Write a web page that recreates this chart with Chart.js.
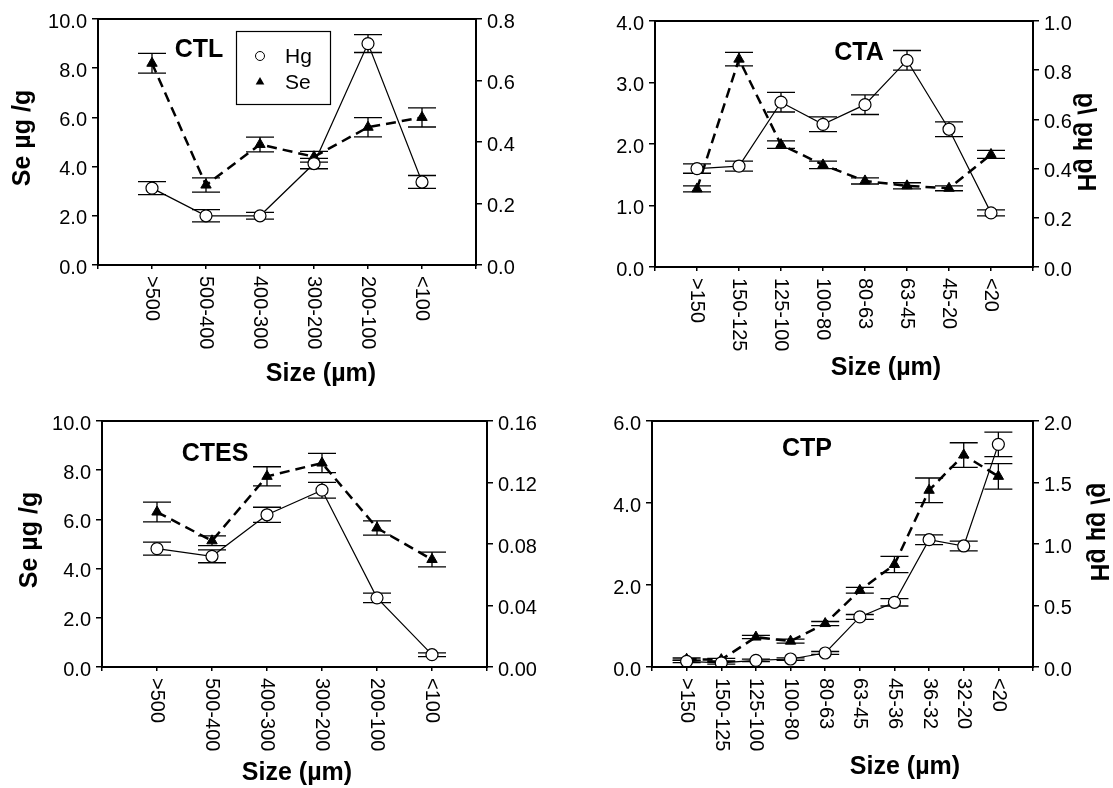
<!DOCTYPE html>
<html><head><meta charset="utf-8">
<script src="https://cdn.jsdelivr.net/npm/chart.js@4/dist/chart.umd.min.js"></script>
<style>
html,body{margin:0;padding:0;background:#fff;}
body{width:1113px;height:788px;position:relative;overflow:hidden;}
canvas{position:absolute;}
</style>
</head><body>
<canvas id="c1" width="556" height="394" style="left:0;top:0"></canvas>
<canvas id="c2" width="557" height="394" style="left:556px;top:0"></canvas>
<canvas id="c3" width="556" height="394" style="left:0;top:394px"></canvas>
<canvas id="c4" width="557" height="394" style="left:556px;top:394px"></canvas>
<script>
// ---------- DATA ----------
const ctlCategories = ['>500','500-400','400-300','300-200','200-100','<100'];
const ctlSe    = [8.2, 3.25, 4.9, 4.4, 5.6, 6.0];
const ctlSeErr = [0.4, 0.29, 0.3, 0.22, 0.39, 0.39];
const ctlHg    = [0.25, 0.16, 0.16, 0.33, 0.72, 0.27];
const ctlHgErr = [0.021, 0.02, 0.011, 0.017, 0.029, 0.021];

const ctaCategories = ['>150','150-125','125-100','100-80','80-63','63-45','45-20','<20'];
const ctaSe    = [1.27, 3.38, 1.99, 1.66, 1.40, 1.32, 1.28, 1.83];
const ctaSeErr = [0.05, 0.11, 0.06, 0.06, 0.05, 0.05, 0.04, 0.065];
const ctaHg    = [0.40, 0.41, 0.67, 0.58, 0.66, 0.84, 0.56, 0.22];
const ctaHgErr = [0.019, 0.02, 0.04, 0.03, 0.04, 0.04, 0.03, 0.012];

const ctesCategories = ['>500','500-400','400-300','300-200','200-100','<100'];
const ctesSe    = [6.3, 5.13, 7.75, 8.29, 5.65, 4.37];
const ctesSeErr = [0.4, 0.2, 0.39, 0.39, 0.29, 0.3];
const ctesHg    = [0.077, 0.072, 0.099, 0.115, 0.045, 0.008];
const ctesHgErr = [0.0042, 0.0042, 0.0049, 0.0051, 0.0031, 0.0012];

const ctpCategories = ['>150','150-125','125-100','100-80','80-63','63-45','45-36','36-32','32-20','<20'];
const ctpSe    = [0.19, 0.18, 0.73, 0.63, 1.06, 1.87, 2.5, 4.31, 5.17, 4.65];
const ctpSeErr = [0.03, 0.03, 0.04, 0.05, 0.05, 0.07, 0.2, 0.3, 0.3, 0.31];
const ctpHg    = [0.046, 0.033, 0.054, 0.065, 0.114, 0.407, 0.526, 1.035, 0.984, 1.81];
const ctpHgErr = [0.01, 0.01, 0.01, 0.01, 0.012, 0.02, 0.03, 0.04, 0.04, 0.1];

// axis ranges / tick steps / decimals
const ctlAxes  = {leftMax:10, leftStep:2, leftDec:1, rightMax:0.8,  rightStep:0.2,  rightDec:1};
const ctaAxes  = {leftMax:4,  leftStep:1, leftDec:1, rightMax:1.0,  rightStep:0.2,  rightDec:1};
const ctesAxes = {leftMax:10, leftStep:2, leftDec:1, rightMax:0.16, rightStep:0.04, rightDec:2};
const ctpAxes  = {leftMax:6,  leftStep:2, leftDec:1, rightMax:2.0,  rightStep:0.5,  rightDec:1};

const leftTitle = 'Se µg /g';
const rightTitle = 'Hg µg /g';
const xTitle = 'Size (µm)';

// ---------- RENDERING ----------
const FONT = "'Liberation Sans', Arial, Helvetica, sans-serif";

const panelDecor = {
  id: 'panelDecor',
  beforeDatasetsDraw(chart, args, o) {
    const ctx = chart.ctx, xs = chart.scales.x;
    ctx.save();
    ctx.strokeStyle = '#000';
    ctx.lineWidth = 1.3;
    ctx.setLineDash([]);
    const cap = 14;
    chart.data.datasets.forEach(ds => {
      const ys = chart.scales[ds.yAxisID];
      ds.data.forEach((p, i) => {
        const e = ds.errors[i];
        const x = xs.getPixelForValue(p.x);
        const yt = ys.getPixelForValue(p.y + e);
        const yb = ys.getPixelForValue(p.y - e);
        ctx.beginPath();
        ctx.moveTo(x, yt); ctx.lineTo(x, yb);
        ctx.moveTo(x - cap, yt); ctx.lineTo(x + cap, yt);
        ctx.moveTo(x - cap, yb); ctx.lineTo(x + cap, yb);
        ctx.stroke();
      });
    });
    ctx.restore();
  },
  afterDraw(chart, args, o) {
    const ctx = chart.ctx, a = chart.chartArea, xs = chart.scales.x;
    ctx.save();
    // frame
    ctx.strokeStyle = '#000';
    ctx.lineWidth = 2;
    ctx.setLineDash([]);
    ctx.strokeRect(a.left, a.top, a.right - a.left, a.bottom - a.top);
    ctx.fillStyle = '#000';
    // x tick labels, rotated clockwise
    ctx.font = '20px ' + FONT;
    ctx.textAlign = 'left';
    ctx.textBaseline = 'middle';
    o.categories.forEach((c, i) => {
      const x = xs.getPixelForValue(i + 1);
      ctx.save();
      ctx.translate(x, a.bottom + 11);
      ctx.rotate(Math.PI / 2);
      ctx.fillText(c, 0, 0);
      ctx.restore();
    });
    // x title
    ctx.font = 'bold 25px ' + FONT;
    ctx.textAlign = 'center';
    ctx.fillText(xTitle, o.xTitlePos[0], o.xTitlePos[1]);
    // panel name
    ctx.fillText(o.name, o.namePos[0], o.namePos[1]);
    // left title
    if (o.leftTitlePos) {
      ctx.save();
      ctx.translate(o.leftTitlePos[0], o.leftTitlePos[1]);
      ctx.rotate(-Math.PI / 2);
      ctx.fillText(leftTitle, 0, 0);
      ctx.restore();
    }
    if (o.rightTitlePos) {
      ctx.save();
      ctx.translate(o.rightTitlePos[0], o.rightTitlePos[1]);
      ctx.transform(0, -1, -1, 0, 0, 0);
      ctx.fillText(rightTitle, 0, 0);
      ctx.restore();
    }
    // legend
    if (o.legend) {
      const L = o.legend;
      ctx.lineWidth = 1.2;
      ctx.strokeRect(L.x + 0.5, L.y + 0.5, L.w, L.h);
      ctx.beginPath();
      ctx.arc(L.x + 24, L.y + 25, 4.5, 0, Math.PI * 2);
      ctx.fillStyle = '#fff'; ctx.fill();
      ctx.strokeStyle = '#000'; ctx.lineWidth = 1; ctx.stroke();
      ctx.fillStyle = '#000';
      const tx = L.x + 24, ty = L.y + 51, r = 5;
      ctx.beginPath();
      ctx.moveTo(tx, ty - r);
      ctx.lineTo(tx + r * 0.866, ty + r * 0.5);
      ctx.lineTo(tx - r * 0.866, ty + r * 0.5);
      ctx.closePath(); ctx.fill();
      ctx.font = '21px ' + FONT;
      ctx.textAlign = 'left';
      ctx.fillText('Hg', L.x + 49, L.y + 26);
      ctx.fillText('Se', L.x + 49, L.y + 52);
    }
    ctx.restore();
  }
};

function makePanel(id, cfg) {
  const cv = document.getElementById(id);
  const W = cv.width, H = cv.height, A = cfg.area;
  const ax = cfg.axes;
  const tickFont = {family: FONT, size: 20};
  const yCommon = (max, step, dec, pos, width) => ({
    type: 'linear', position: pos, min: 0, max: max,
    ticks: {stepSize: step, color: '#000', font: tickFont, padding: 5, labelOffset: 3,
            callback: v => Number(v).toFixed(dec)},
    grid: {drawOnChartArea: false, drawTicks: true, tickLength: 6, color: '#000', lineWidth: 1.5},
    border: {display: true, color: '#000', width: 2},
    afterFit: s => { s.width = width; }
  });
  new Chart(cv, {
    type: 'line',
    data: {
      datasets: [
        {label: 'Hg', yAxisID: 'yR', errors: cfg.hgErr,
         data: cfg.hg.map((v, i) => ({x: i + 1, y: v})),
         borderColor: '#000', borderWidth: 1.2, tension: 0, fill: false,
         pointStyle: 'circle', pointRadius: 6, pointBackgroundColor: '#fff',
         pointBorderColor: '#000', pointBorderWidth: 1.2},
        {label: 'Se', yAxisID: 'yL', errors: cfg.seErr,
         data: cfg.se.map((v, i) => ({x: i + 1, y: v})),
         borderColor: '#000', borderWidth: 2.5, borderDash: [10, 6], tension: 0, fill: false,
         pointStyle: 'triangle', pointRadius: 6, pointBackgroundColor: '#000',
         pointBorderColor: '#000', pointBorderWidth: 1}
      ]
    },
    options: {
      responsive: false, animation: false, events: [],
      layout: {padding: {top: A.top, left: 0, right: 0, bottom: 0}},
      plugins: {legend: {display: false}, tooltip: {enabled: false}, panelDecor: cfg},
      scales: {
        x: {type: 'linear', min: 0, max: cfg.categories.length + 1,
            ticks: {stepSize: 1, display: false},
            grid: {drawOnChartArea: false, drawTicks: true, tickLength: 4, color: '#000', lineWidth: 1.5},
            border: {display: true, color: '#000', width: 2},
            afterFit: s => { s.height = H - A.bottom; }},
        yL: yCommon(ax.leftMax, ax.leftStep, ax.leftDec, 'left', A.left),
        yR: yCommon(ax.rightMax, ax.rightStep, ax.rightDec, 'right', W - A.right)
      }
    },
    plugins: [panelDecor]
  });
}

makePanel('c1', {categories: ctlCategories, se: ctlSe, seErr: ctlSeErr, hg: ctlHg, hgErr: ctlHgErr,
  axes: ctlAxes, area: {left: 98, right: 476, top: 19, bottom: 265},
  name: 'CTL', namePos: [199, 50], xTitlePos: [321, 374], leftTitlePos: [23, 138],
  legend: {x: 236, y: 31, w: 94, h: 73}});
makePanel('c2', {categories: ctaCategories, se: ctaSe, seErr: ctaSeErr, hg: ctaHg, hgErr: ctaHgErr,
  axes: ctaAxes, area: {left: 99, right: 477, top: 21, bottom: 267},
  name: 'CTA', namePos: [303, 53], xTitlePos: [330, 368], rightTitlePos: [529, 142]});
makePanel('c3', {categories: ctesCategories, se: ctesSe, seErr: ctesSeErr, hg: ctesHg, hgErr: ctesHgErr,
  axes: ctesAxes, area: {left: 102, right: 487, top: 27, bottom: 273},
  name: 'CTES', namePos: [215, 60], xTitlePos: [297, 379], leftTitlePos: [30, 146]});
makePanel('c4', {categories: ctpCategories, se: ctpSe, seErr: ctpSeErr, hg: ctpHg, hgErr: ctpHgErr,
  axes: ctpAxes, area: {left: 96, right: 477, top: 27, bottom: 273},
  name: 'CTP', namePos: [251, 55], xTitlePos: [349, 373], rightTitlePos: [542, 138]});
</script>
</body></html>
